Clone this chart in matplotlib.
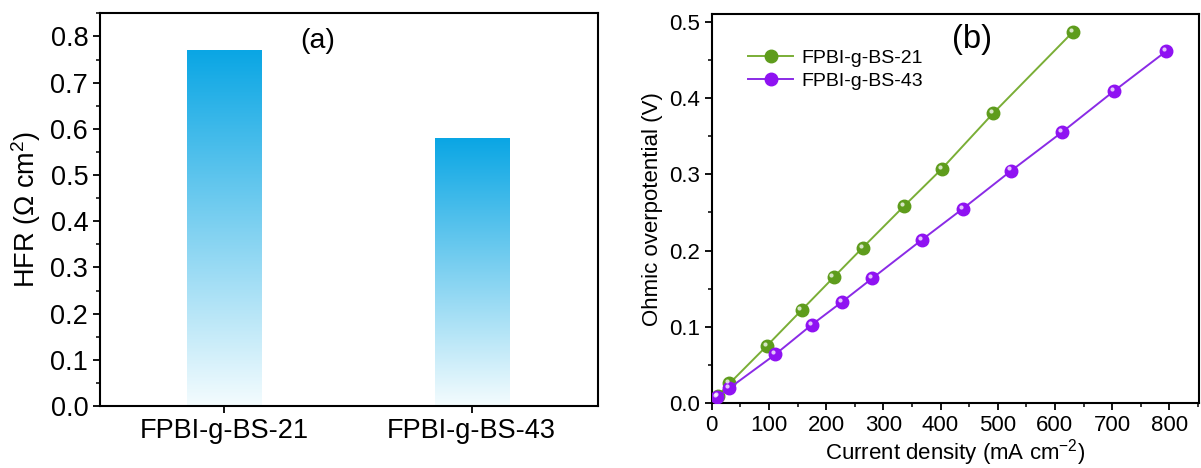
import matplotlib
matplotlib.use("Agg")
import matplotlib.pyplot as plt
import matplotlib.transforms as mtransforms
from matplotlib.colors import LinearSegmentedColormap
from matplotlib.ticker import MultipleLocator
import numpy as np

plt.rcParams["font.family"] = ["Liberation Sans", "DejaVu Sans"]
plt.rcParams["mathtext.fontset"] = "custom"
plt.rcParams["mathtext.rm"] = "Liberation Sans"
plt.rcParams["mathtext.it"] = "Liberation Sans:italic"

# ---------------------------------------------------------------------------
# Data
# ---------------------------------------------------------------------------
samples = ["FPBI-g-BS-21", "FPBI-g-BS-43"]
hfr = [0.769, 0.580]

j_21 = [11, 31, 96, 157, 213, 264, 337, 402, 492, 632]
v_21 = [0.010, 0.026, 0.075, 0.122, 0.165, 0.204, 0.259, 0.307, 0.380, 0.487]

j_43 = [10, 31, 111, 175, 228, 281, 367, 439, 524, 612, 703, 794]
v_43 = [0.008, 0.020, 0.064, 0.103, 0.133, 0.164, 0.214, 0.255, 0.305, 0.355, 0.409, 0.461]

fig = plt.figure(figsize=(12.01, 4.68), dpi=100)
ax1 = fig.add_axes([0.0833, 0.1325, 0.4147, 0.839])
ax2 = fig.add_axes([0.5926, 0.1382, 0.4058, 0.8318])

for ax in (ax1, ax2):
    for s in ax.spines.values():
        s.set_linewidth(1.5)
    ax.tick_params(which="major", direction="out", length=5, width=1.3)
    ax.tick_params(which="minor", direction="out", length=3, width=1.1)

# ---------------------------------------------------------------------------
# (a) gradient bars
# ---------------------------------------------------------------------------
cmap = LinearSegmentedColormap.from_list("hfr", ["#f4fcfe", "#0aa6e4"])
grad = np.linspace(0, 1, 256).reshape(-1, 1)
bar_w = 0.3
for i, h in enumerate(hfr):
    ax1.imshow(grad, cmap=cmap, origin="lower", aspect="auto",
               extent=[i - bar_w / 2, i + bar_w / 2, 0, h], zorder=2)
ax1.set_xlim(-0.5, 1.51)
ax1.set_ylim(0, 0.85)
ax1.set_xticks(range(len(samples)))
ax1.set_xticklabels(samples, fontsize=19.5)
ax1.yaxis.set_major_locator(MultipleLocator(0.1))
ax1.yaxis.set_minor_locator(MultipleLocator(0.05))
ax1.yaxis.set_major_formatter(plt.FormatStrFormatter("%.1f"))
ax1.tick_params(axis="y", labelsize=19.5)
ax1.set_ylabel("HFR ($\\Omega$ cm$^2$)", fontsize=19.5, labelpad=5)
ax1.text(0.436, 0.93, "(a)", transform=ax1.transAxes, fontsize=20.5,
         ha="center", va="center")

# ---------------------------------------------------------------------------
# (b) ohmic overpotential
# ---------------------------------------------------------------------------
def ball_line(ax, x, y, line_c, ball_c, label):
    ax.plot(x, y, "-", color=line_c, lw=1.4, marker="o", ms=9,
            mfc=ball_c, mec=ball_c, label=label, zorder=3)
    off = mtransforms.offset_copy(ax.transData, fig=fig, x=-1.5, y=1.5, units="points")
    ax.plot(x, y, "o", ms=3, color="white", alpha=0.75, mec="none",
            transform=off, zorder=4)

ball_line(ax2, j_21, v_21, "#7aae36", "#5e9c1c", "FPBI-g-BS-21")
ball_line(ax2, j_43, v_43, "#8a2be6", "#8f12f2", "FPBI-g-BS-43")

ax2.set_xlim(0, 852)
ax2.set_ylim(0, 0.51)
ax2.xaxis.set_major_locator(MultipleLocator(100))
ax2.xaxis.set_minor_locator(MultipleLocator(50))
ax2.yaxis.set_major_locator(MultipleLocator(0.1))
ax2.yaxis.set_minor_locator(MultipleLocator(0.05))
ax2.yaxis.set_major_formatter(plt.FormatStrFormatter("%.1f"))
ax2.tick_params(labelsize=16)
ax2.set_xlabel("Current density (mA cm$^{-2}$)", fontsize=16, labelpad=1)
ax2.set_ylabel("Ohmic overpotential (V)", fontsize=16, labelpad=4)
ax2.text(0.535, 0.935, "(b)", transform=ax2.transAxes, fontsize=23.5,
         ha="center", va="center")
ax2.legend(loc="upper left", bbox_to_anchor=(0.058, 0.93), frameon=False,
           fontsize=14, handlelength=2.35, handletextpad=0.4,
           labelspacing=0.3, borderaxespad=0)

fig.savefig("out.png", dpi=100)
